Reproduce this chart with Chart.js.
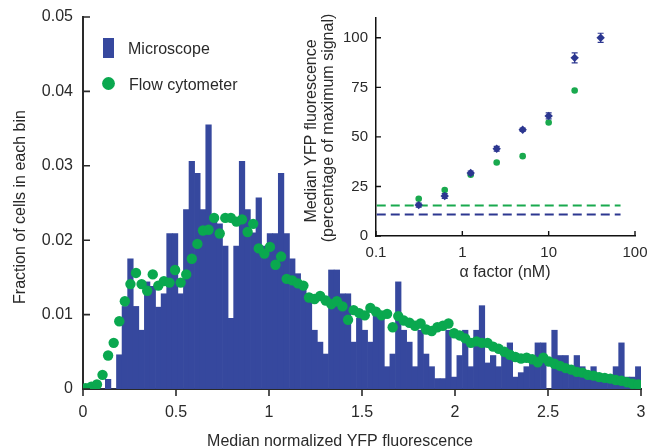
<!DOCTYPE html>
<html><head><meta charset="utf-8">
<script src="https://cdn.jsdelivr.net/npm/chart.js@4.4.1/dist/chart.umd.min.js"></script>
<style>
html,body{margin:0;padding:0;background:#fff;}
#wrap{position:relative;width:650px;height:448px;overflow:hidden;background:#fff;}
#wrap canvas{position:absolute;left:0;top:0;}
</style></head><body>
<div id="wrap"><canvas id="main" width="650" height="448"></canvas><canvas id="inset" width="650" height="448"></canvas></div>
<script>
// ---------- DATA: main histogram ----------
const binCenters = [
 0.015,0.045,0.075,0.105,0.135,0.165,0.195,0.225,0.255,0.285,
 0.315,0.345,0.375,0.405,0.435,0.465,0.495,0.525,0.555,0.585,
 0.615,0.645,0.675,0.705,0.735,0.765,0.795,0.825,0.855,0.885,
 0.915,0.945,0.975,1.005,1.035,1.065,1.095,1.125,1.155,1.185,
 1.215,1.245,1.275,1.305,1.335,1.365,1.395,1.425,1.455,1.485,
 1.515,1.545,1.575,1.605,1.635,1.665,1.695,1.725,1.755,1.785,
 1.815,1.845,1.875,1.905,1.935,1.965,1.995,2.025,2.055,2.085,
 2.115,2.145,2.175,2.205,2.235,2.265,2.295,2.325,2.355,2.385,
 2.415,2.445,2.475,2.505,2.535,2.565,2.595,2.625,2.655,2.685,
 2.715,2.745,2.775,2.805,2.835,2.865,2.895,2.925,2.955,2.985];
const microscope = [
 0,0,0,0,0.0013,0,0.0046,0.0111,0.0175,0.0111,
 0.0079,0.0144,0.0138,0.011,0.0128,0.0209,0.0209,0.0128,0.0241,0.0306,
 0.029,0.0241,0.0355,0.0225,0.0222,0.0192,0.0095,0.0192,0.0306,0.0241,
 0.021,0.0257,0.0192,0.0209,0.0209,0.029,0.0209,0.0175,0.0155,0.014,
 0.0128,0.0079,0.0063,0.0047,0.016,0.016,0.0128,0.0128,0.0063,0.0095,
 0.0079,0.0063,0.0108,0.0095,0.003,0.0047,0.0144,0.0079,0.0063,0.003,
 0.0079,0.0047,0.003,0.0014,0.0014,0.0079,0.0016,0.0045,0.0079,0.003,
 0.0079,0.0112,0.0035,0.0045,0.003,0.005,0.0062,0.0016,0.0022,0.003,
 0.0045,0.0062,0.0062,0,0.0079,0.0045,0.0045,0.002,0.0045,0.003,
 0.0016,0.003,0.0016,0.0016,0.0016,0.003,0.0062,0.0016,0.0016,0.003];
const flowCytometer = [
 0.0001,0.0003,0.0006,0.0019,0.0045,0.0062,0.0091,0.0118,0.0141,0.0156,
 0.0141,0.0132,0.0154,0.0139,0.0145,0.0143,0.016,0.0143,0.0154,0.0175,
 0.0195,0.0213,0.0214,0.023,0.0209,0.023,0.023,0.0225,0.0228,0.0211,
 0.0222,0.0189,0.0182,0.0191,0.0167,0.0178,0.0148,0.0146,0.0142,0.0139,
 0.0123,0.0121,0.0125,0.0119,0.0114,0.0118,0.0111,0.0093,0.0106,0.0102,
 0.0099,0.0109,0.0104,0.0099,0.0101,0.0083,0.0098,0.0092,0.0089,0.0085,
 0.0088,0.008,0.0078,0.0083,0.0085,0.0088,0.0075,0.0072,0.0068,0.0062,
 0.0064,0.0062,0.0062,0.0057,0.0054,0.005,0.0046,0.0043,0.0041,0.0042,
 0.004,0.0036,0.0042,0.0037,0.0034,0.0031,0.0028,0.0026,0.0023,0.0022,
 0.0019,0.0018,0.0016,0.0015,0.0014,0.0012,0.0011,0.0009,0.0007,0.0006];
const seriesNames = ['Microscope', 'Flow cytometer'];

// ---------- DATA: inset ----------
const alphaFactor = [0.3125, 0.625, 1.25, 2.5, 5, 10, 20, 40];
const microMedian = [15.6, 20.2, 31.8, 44, 53.6, 60.6, 89.9, 100];
const microError  = [1.0, 1.2, 1.0, 1.2, 0.8, 1.5, 2.5, 2.3];
const flowAlpha   = [0.3125, 0.625, 1.25, 2.5, 5, 10, 20];
const flowMedian  = [18.8, 23.2, 30.9, 37.1, 40.3, 57.3, 73.4];
const basalRange  = [0.102, 68];
const flowBasal   = 15.4;
const microBasal  = 10.9;
const insetXTicks = [0.1, 1, 10, 100];
const insetYTicks = [0, 25, 50, 75, 100];

// ---------- STYLE ----------
const FONT = "'Liberation Sans', Arial, Helvetica, sans-serif";
const TXT = '#2a2a2a';
const BAR_BLUE = '#36489e';
const DOT_GREEN = '#0aa84f';
const INS_BLUE = '#2c3790';
const INS_GREEN = '#19a94e';

function noPad(s) { s.paddingLeft = 0; s.paddingRight = 0; s.paddingTop = 0; s.paddingBottom = 0; }

const mainDecor = {
  id: 'mainDecor',
  afterDraw(chart) {
    const {ctx, chartArea: a, scales: {x, y}} = chart;
    ctx.save();
    ctx.strokeStyle = TXT; ctx.lineWidth = 1.6;
    ctx.beginPath();
    y.ticks.forEach(t => { const py = y.getPixelForValue(t.value); ctx.moveTo(a.left, py); ctx.lineTo(a.left + 7, py); });
    x.ticks.forEach(t => { const px = x.getPixelForValue(t.value); ctx.moveTo(px, a.bottom); ctx.lineTo(px, a.bottom + 7); });
    ctx.stroke();
    // legend
    ctx.fillStyle = BAR_BLUE; ctx.fillRect(103, 38, 11, 20);
    ctx.fillStyle = DOT_GREEN; ctx.beginPath(); ctx.arc(108.5, 83.5, 6.4, 0, Math.PI * 2); ctx.fill();
    ctx.fillStyle = TXT; ctx.font = '16px ' + FONT; ctx.textAlign = 'left'; ctx.textBaseline = 'alphabetic';
    ctx.fillText(seriesNames[0], 128, 54);
    ctx.fillText(seriesNames[1], 129, 89.5);
    // axis titles
    ctx.textAlign = 'center';
    ctx.fillText('Median normalized YFP fluorescence', 340, 446);
    ctx.translate(24.5, 207); ctx.rotate(-Math.PI / 2);
    ctx.fillText('Fraction of cells in each bin', 0, 0);
    ctx.restore();
  }
};

new Chart(document.getElementById('main'), {
  type: 'bar',
  data: {
    datasets: [
      { type: 'scatter', label: seriesNames[1], order: 1,
        data: binCenters.map((v, i) => ({x: v, y: flowCytometer[i]})),
        backgroundColor: DOT_GREEN, borderWidth: 0, pointRadius: 5.2, pointHoverRadius: 5.2 },
      { type: 'bar', label: seriesNames[0], order: 2,
        data: binCenters.map((v, i) => ({x: v, y: microscope[i]})),
        backgroundColor: BAR_BLUE, borderWidth: 0, barPercentage: 1, categoryPercentage: 1 }
    ]
  },
  options: {
    responsive: false, animation: false, devicePixelRatio: 1,
    layout: { padding: { left: 0, right: 9, top: 17, bottom: 0 } },
    plugins: { legend: { display: false }, tooltip: { enabled: false } },
    scales: {
      x: { type: 'linear', min: 0, max: 3, offset: false,
        grid: { display: false, drawTicks: false },
        border: { display: true, color: TXT, width: 2 },
        ticks: { stepSize: 0.5, color: TXT, font: { family: FONT, size: 16 }, padding: 14, maxRotation: 0, autoSkip: false,
          callback: v => String(Math.round(v * 100) / 100) },
        afterFit(s) { s.height = 59; noPad(s); } },
      y: { type: 'linear', min: 0, max: 0.05,
        grid: { display: false, drawTicks: false },
        border: { display: true, color: TXT, width: 2 },
        ticks: { stepSize: 0.01, color: TXT, font: { family: FONT, size: 16 }, padding: 10,
          callback: v => String(Math.round(v * 1000) / 1000) },
        afterFit(s) { s.width = 83; noPad(s); } }
    }
  },
  plugins: [mainDecor]
});

const insetDecor = {
  id: 'insetDecor',
  afterDatasetsDraw(chart) {
    const {ctx, scales: {x, y}} = chart;
    ctx.save();
    ctx.strokeStyle = INS_BLUE; ctx.lineWidth = 1.2;
    ctx.beginPath();
    alphaFactor.forEach((c, i) => {
      const px = x.getPixelForValue(c);
      const top = y.getPixelForValue(microMedian[i] + microError[i]);
      const bot = y.getPixelForValue(microMedian[i] - microError[i]);
      ctx.moveTo(px, top); ctx.lineTo(px, bot);
      ctx.moveTo(px - 3, top); ctx.lineTo(px + 3, top);
      ctx.moveTo(px - 3, bot); ctx.lineTo(px + 3, bot);
    });
    ctx.stroke();
    ctx.restore();
  },
  afterDraw(chart) {
    const {ctx, chartArea: a, scales: {x, y}} = chart;
    ctx.save();
    ctx.strokeStyle = '#111'; ctx.lineWidth = 1.4;
    ctx.beginPath();
    y.ticks.forEach(t => { const py = y.getPixelForValue(t.value); ctx.moveTo(a.left, py); ctx.lineTo(a.left + 5, py); });
    x.ticks.forEach(t => { const px = x.getPixelForValue(t.value); ctx.moveTo(px, a.bottom); ctx.lineTo(px, a.bottom - 5); });
    ctx.stroke();
    ctx.fillStyle = TXT; ctx.font = '16px ' + FONT; ctx.textAlign = 'center'; ctx.textBaseline = 'alphabetic';
    ctx.fillText('\u03b1 factor (nM)', 505, 276.5);
    ctx.save();
    ctx.translate(316, 131); ctx.rotate(-Math.PI / 2);
    ctx.fillText('Median YFP fluorescence', 0, 0);
    ctx.restore();
    ctx.translate(333, 128); ctx.rotate(-Math.PI / 2);
    ctx.fillText('(percentage of maximum signal)', 0, 0);
    ctx.restore();
  }
};

new Chart(document.getElementById('inset'), {
  type: 'scatter',
  data: {
    datasets: [
      { label: 'Microscope', order: 1,
        data: alphaFactor.map((c, i) => ({x: c, y: microMedian[i]})),
        pointStyle: 'rectRot', pointRadius: 4.2, backgroundColor: INS_BLUE, borderWidth: 0 },
      { label: 'Flow cytometer', order: 2,
        data: flowAlpha.map((c, i) => ({x: c, y: flowMedian[i]})),
        pointRadius: 3.3, backgroundColor: INS_GREEN, borderWidth: 0 },
      { type: 'line', label: 'Flow basal', order: 3,
        data: basalRange.map(c => ({x: c, y: flowBasal})),
        borderColor: INS_GREEN, borderWidth: 2, borderDash: [9, 5], pointRadius: 0, fill: false },
      { type: 'line', label: 'Microscope basal', order: 4,
        data: basalRange.map(c => ({x: c, y: microBasal})),
        borderColor: INS_BLUE, borderWidth: 2, borderDash: [9, 5], pointRadius: 0, fill: false }
    ]
  },
  options: {
    responsive: false, animation: false, devicePixelRatio: 1,
    layout: { padding: { left: 0, right: 15, top: 18, bottom: 0 } },
    plugins: { legend: { display: false }, tooltip: { enabled: false } },
    scales: {
      x: { type: 'logarithmic', min: 0.1, max: 100,
        grid: { display: false, drawTicks: false },
        border: { display: true, color: '#111', width: 1.5 },
        afterBuildTicks(s) { s.ticks = insetXTicks.map(v => ({value: v})); },
        ticks: { color: TXT, font: { family: FONT, size: 15 }, padding: 8, maxRotation: 0, autoSkip: false,
          callback: v => String(v) },
        afterFit(s) { s.height = 212; noPad(s); } },
      y: { type: 'linear', min: 0, max: 110,
        grid: { display: false, drawTicks: false },
        border: { display: true, color: '#111', width: 1.5 },
        afterBuildTicks(s) { s.ticks = insetYTicks.map(v => ({value: v})); },
        ticks: { color: TXT, font: { family: FONT, size: 15 }, padding: 8 },
        afterFit(s) { s.width = 376; noPad(s); } }
    }
  },
  plugins: [insetDecor]
});
</script></body></html>
